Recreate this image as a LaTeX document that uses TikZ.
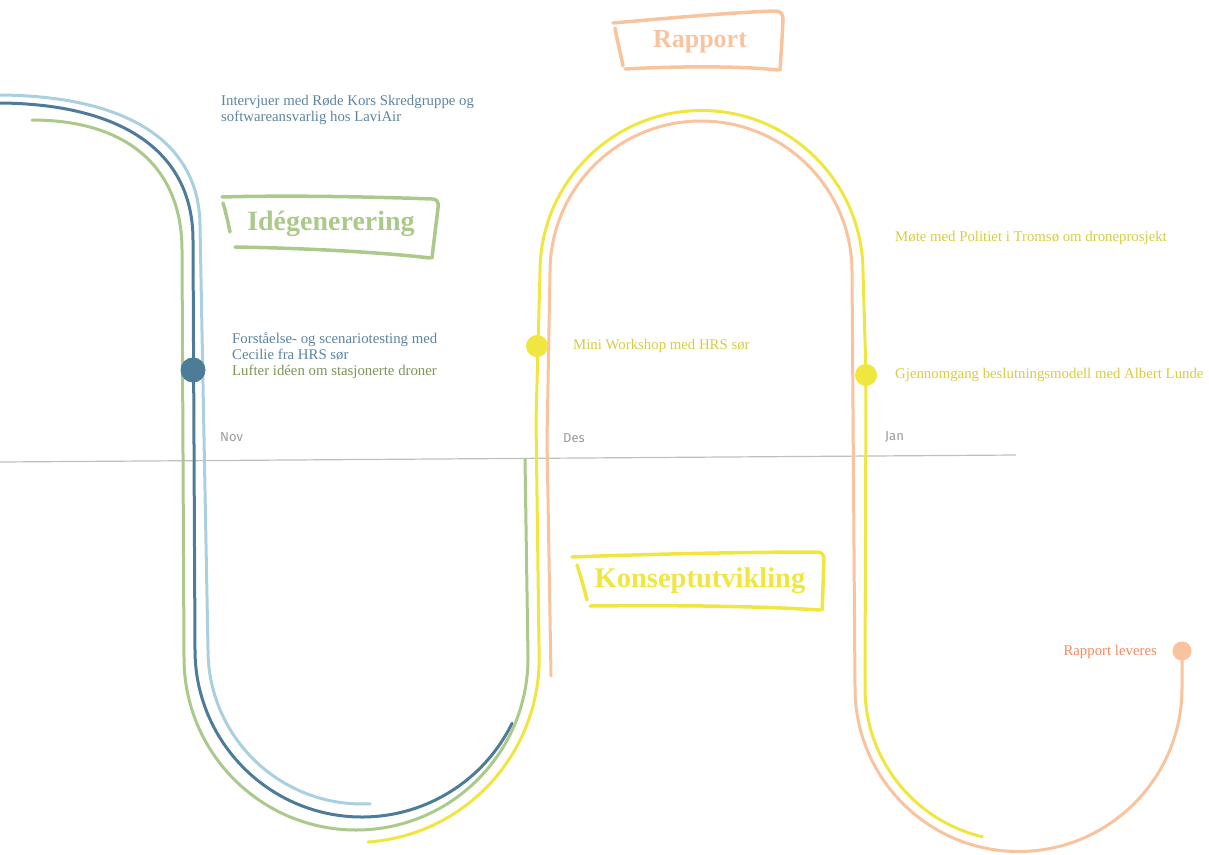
\documentclass[tikz,border=0pt]{standalone}
\usepackage{fontspec}
\setmainfont{Liberation Serif}
\newfontfamily\monthfont{Fira Sans}
\definecolor{lightblue}{HTML}{A9D0DF}
\definecolor{darkblue}{HTML}{4D7C99}
\definecolor{leaf}{HTML}{ABC98B}
\definecolor{lemon}{HTML}{EFE73F}
\definecolor{peach}{HTML}{F9C39D}
\definecolor{bluetext}{HTML}{5B84A2}
\definecolor{leaftext}{HTML}{7C9557}
\definecolor{lemontext}{HTML}{D8CB3F}
\definecolor{salmontext}{HTML}{F4895E}
\definecolor{monthgray}{HTML}{9B9B9B}
\definecolor{axisgray}{HTML}{BFBFBF}
\begin{document}
\begin{tikzpicture}[x=1pt,y=-1pt,
  track/.style={line width=3pt, line cap=round, line join=round},
  frame/.style={line width=3.5pt, line cap=round, line join=round},
  event/.style={anchor=base west, inner sep=0pt, font=\fontsize{14.8}{17}\selectfont},
  phase/.style={anchor=base, inner sep=0pt, font=\fontsize{28}{32}\selectfont\bfseries},
  month/.style={anchor=base west, inner sep=0pt, text=monthgray, font=\monthfont\fontsize{13}{15}\selectfont},
  eventdot/.style={circle, inner sep=0pt, minimum size=#1}]
\useasboundingbox (0,0) rectangle (1209,854);

% time axis
\coordinate (axisL) at (0,462);
\coordinate (axisR) at (1016,455);
\draw[axisgray, line width=1.2pt] (axisL) -- (axisR);
\node[month] (nov) at (220,441) {Nov};
\node[month] (des) at (563,442) {Des};
\node[month] (jan) at (885,440) {Jan};

% tracks
\draw[track, lightblue] (0,95) .. controls (125,96) and (199,140) .. (200,225)
  -- (208,650) arc[start angle=180, end angle=87, radius=154];
\draw[track, darkblue] (0,103) .. controls (120,104) and (193,150) .. (193,240)
  -- (195,650) arc[start angle=180, end angle=26, radius=167];
\draw[track, leaf] (32,120) .. controls (130,120) and (182,170) .. (182,250)
  -- (184,658) arc[start angle=180, end angle=0, radius=172] -- (525,459);
\draw[track, lemon] (368,842) arc[start angle=86, end angle=0, radius=184]
  -- (536,420) -- (540,272) arc[start angle=180, end angle=360, radius=161.5]
  -- (866,375) -- (865,688) arc[start angle=180, end angle=103.5, radius=153];
\draw[track, peach] (551,676) -- (547,440) -- (550,272)
  arc[start angle=180, end angle=360, radius=151]
  -- (855,688) arc[start angle=180, end angle=0, radius=163.5] -- (1182,651);

% milestones
\node[eventdot=25pt, fill=darkblue] (d1) at (193,370) {};
\node[eventdot=22pt, fill=lemon] (d2) at (537,346) {};
\node[eventdot=22pt, fill=lemon] (d3) at (866,375) {};
\node[eventdot=19pt, fill=peach] (d4) at (1182,651) {};

% event labels
\node[event, text=bluetext] (e1a) at (221,105) {Intervjuer med Røde Kors Skredgruppe og};
\node[event, text=bluetext] (e1b) at (221,121) {softwareansvarlig hos LaviAir};
\node[event, text=bluetext] (e2a) at (232,343) {Forståelse- og scenariotesting med};
\node[event, text=bluetext] (e2b) at (232,359) {Cecilie fra HRS sør};
\node[event, text=leaftext] (e3) at (232,375) {Lufter idéen om stasjonerte droner};
\node[event, text=lemontext] (e4) at (573,349) {Mini Workshop med HRS sør};
\node[event, text=lemontext] (e5) at (895,241) {Møte med Politiet i Tromsø om droneprosjekt};
\node[event, text=lemontext] (e6) at (895,378) {Gjennomgang beslutningsmodell med Albert Lunde};
\node[event, anchor=base east, text=salmontext] (e7) at (1157,655) {Rapport leveres};

% phase titles with hand-drawn frames
\node[phase, text=peach, font=\fontsize{26}{30}\selectfont\bfseries] (rapport) at (700,47) {Rapport};
\draw[frame, peach] (613,23) .. controls (680,17) and (740,12) .. (775,11)
  .. controls (781,11) and (783,14) .. (783,20) .. controls (782,40) and (781,55) .. (780,70);
\draw[frame, peach] (625,69) .. controls (680,66) and (740,66) .. (778,70);
\draw[frame, peach] (615,28) .. controls (618,45) and (621,55) .. (623,66);

\node[phase, text=leaf] (ide) at (331,230) {Idégenerering};
\draw[frame, leaf] (222,197) .. controls (290,195) and (380,197) .. (432,199)
  .. controls (437,199) and (439,202) .. (438,208) .. controls (436,225) and (434,240) .. (432,258);
\draw[frame, leaf] (235,247) .. controls (300,248) and (380,252) .. (430,258);
\draw[frame, leaf] (223,203) .. controls (226,213) and (228,222) .. (230,232);

\node[phase, text=lemon, font=\fontsize{28.5}{32}\selectfont\bfseries] (konsept) at (700,587) {Konseptutvikling};
\draw[frame, lemon] (572,557) .. controls (650,554) and (750,552) .. (817,552)
  .. controls (822,552) and (824,555) .. (824,560) .. controls (823,578) and (823,595) .. (822,610);
\draw[frame, lemon] (590,606) .. controls (670,605) and (760,606) .. (820,610);
\draw[frame, lemon] (577,565) .. controls (581,577) and (584,588) .. (587,600);
\end{tikzpicture}
\end{document}
